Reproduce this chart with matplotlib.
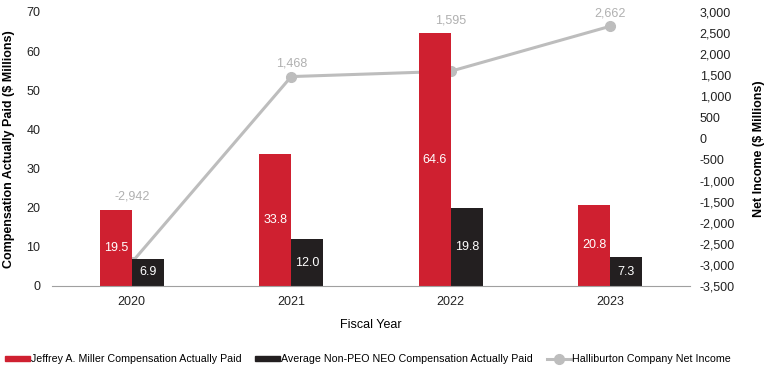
import matplotlib
matplotlib.use('Agg')
import matplotlib.pyplot as plt
import matplotlib.patches as mpatches
from matplotlib.lines import Line2D
import numpy as np

plt.rcParams['font.family'] = ['Liberation Sans', 'DejaVu Sans']

RED = '#cf2030'
BLACK = '#231f20'
GREY = '#bdbdbd'
GREY_TXT = '#b0b0b0'

years = ['2020', '2021', '2022', '2023']
miller_cap = [19.5, 33.8, 64.6, 20.8]
neo_cap = [6.9, 12.0, 19.8, 7.3]
net_income = [-2942, 1468, 1595, 2662]

fig = plt.figure(figsize=(7.66, 3.68), dpi=100)
ax = fig.add_axes([52/766, 1-286/368, (690-52)/766, (286-12)/368])
ax2 = ax.twinx()

x = np.arange(len(years))
w = 0.2
ax.bar(x - w/2, miller_cap, w, color=RED, zorder=2)
ax.bar(x + w/2, neo_cap, w, color=BLACK, zorder=2)

for xi, v in zip(x, miller_cap):
    ax.text(xi - w/2, v/2, f'{v:.1f}', color='white', ha='center', va='center', fontsize=9, zorder=3)
for xi, v in zip(x, neo_cap):
    ax.text(xi + w/2, v/2, f'{v:.1f}', color='white', ha='center', va='center', fontsize=9, zorder=3)

ax.set_ylim(0, 70)
ax.set_yticks(range(0, 71, 10))
ax.set_xlim(-0.5, 3.5)
ax.set_xticks(x)
ax.set_xticklabels(years)

ax2.set_ylim(-3500, 3000)
ax2.set_yticks(range(-3500, 3001, 500))
ax2.set_yticklabels([f'{t:,}' for t in range(-3500, 3001, 500)])
ax2.plot(x, net_income, color=GREY, lw=2.2, marker='o', ms=7, zorder=4)

# value labels above the higher of bar top / point
for xi, v, m in zip(x, net_income, miller_cap):
    y_line = (v + 3500) / 6500 * 70
    top = max(y_line, m)
    ax.annotate(f'{v:,}', (xi, top), xytext=(0, 5), textcoords='offset points',
                ha='center', va='bottom', color=GREY_TXT, fontsize=9, zorder=5)

ax.set_zorder(ax2.get_zorder() + 1)
ax.patch.set_visible(False)

for a in (ax, ax2):
    for s in ['top', 'left', 'right']:
        a.spines[s].set_visible(False)
    a.spines['bottom'].set_color('#a0a0a0')
    a.tick_params(length=0, labelsize=9, colors='#222222')
ax2.spines['bottom'].set_visible(False)
ax.tick_params(axis='y', pad=8.5)
ax2.tick_params(axis='y', pad=7)
ax.tick_params(axis='x', pad=7)

ax.set_ylabel('Compensation Actually Paid ($ Millions)', fontsize=9, fontweight='bold', labelpad=8)
ax2.set_ylabel('Net Income ($ Millions)', fontsize=9, fontweight='bold', labelpad=13)
ax.set_xlabel('Fiscal Year', fontsize=9, labelpad=8)

handles = [mpatches.Patch(color=RED), mpatches.Patch(color=BLACK),
           Line2D([], [], color=GREY, lw=2.2, marker='o', ms=7)]
labels = ['Jeffrey A. Miller Compensation Actually Paid',
          'Average Non-PEO NEO Compensation Actually Paid',
          'Halliburton Company Net Income']
fig.legend(handles, labels, ncol=3, loc='lower left', bbox_to_anchor=(-0.003, -0.01),
           frameon=False, fontsize=7.7, handlelength=2.3, handleheight=0.45,
           handletextpad=0.1, columnspacing=1.3, borderaxespad=0.3)

fig.savefig('out.png', dpi=100, facecolor='white')
